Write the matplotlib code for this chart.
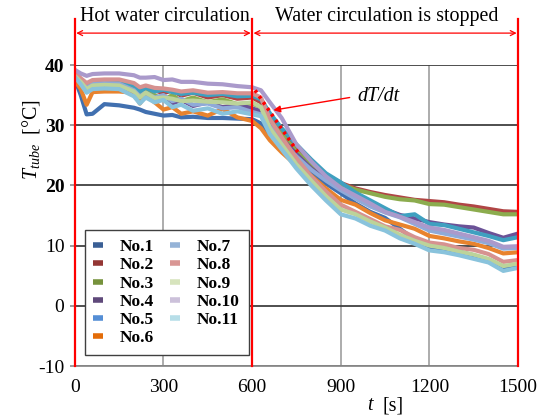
import matplotlib
matplotlib.use("Agg")
import matplotlib.pyplot as plt
from matplotlib.lines import Line2D

plt.rcParams["font.family"] = ["Liberation Serif", "DejaVu Serif"]
plt.rcParams["mathtext.fontset"] = "custom"
plt.rcParams["mathtext.rm"] = "Liberation Serif"
plt.rcParams["mathtext.it"] = "Liberation Serif:italic"
plt.rcParams["axes.unicode_minus"] = False

# time axis [s]
t = [0, 20, 40, 60, 100, 150, 200, 220, 240, 270, 300, 330, 360, 400, 450, 500, 550, 600,
     630, 660, 700, 750, 800, 850, 900, 950, 1000, 1050, 1100, 1150, 1200, 1250, 1300,
     1350, 1400, 1450, 1500]

# tube temperatures [degC]
no1 = [37.7, 35.0, 31.8, 31.9, 33.5, 33.3, 32.9, 32.6, 32.2, 31.9, 31.6, 31.7, 31.3, 31.4, 31.2, 31.2, 31.1, 31.0,
       30.3, 28.5, 26.5, 24.0, 22.0, 20.3, 18.7, 17.0, 15.6, 14.6, 12.8, 11.0, 9.8, 9.3, 9.0, 8.4, 7.6, 6.2, 6.6]
no2 = [38.6, 37.6, 36.8, 37.3, 37.4, 37.4, 36.8, 36.0, 36.3, 35.8, 35.3, 35.8, 34.9, 35.4, 34.6, 35.0, 34.4, 34.6,
       33.8, 31.5, 29.0, 26.0, 23.8, 21.8, 20.4, 19.5, 18.9, 18.4, 18.0, 17.6, 17.4, 17.2, 16.8, 16.5, 16.1, 15.7, 15.6]
no3 = [38.4, 37.3, 36.4, 37.0, 37.1, 37.0, 36.2, 35.3, 35.8, 35.0, 34.2, 35.0, 34.0, 34.6, 33.8, 34.3, 33.5, 33.6,
       33.0, 30.8, 28.5, 25.6, 23.4, 21.5, 20.2, 19.3, 18.7, 18.1, 17.7, 17.5, 16.9, 16.8, 16.4, 16.0, 15.6, 15.2, 15.2]
no4 = [38.0, 37.0, 35.8, 36.3, 36.4, 36.3, 35.0, 33.8, 35.2, 34.0, 34.6, 33.6, 34.2, 33.2, 33.8, 33.0, 33.4, 32.8,
       32.3, 30.2, 27.8, 25.2, 22.8, 21.0, 19.5, 18.3, 17.0, 16.0, 15.1, 14.5, 13.9, 13.5, 13.2, 13.0, 12.1, 11.3, 12.0]
no5 = [38.3, 37.5, 36.6, 37.2, 37.3, 37.3, 36.6, 35.6, 36.2, 35.6, 35.9, 35.5, 35.2, 35.4, 35.0, 35.2, 34.8, 34.9,
       34.3, 32.0, 29.5, 26.8, 24.3, 22.0, 20.5, 18.8, 17.5, 16.2, 14.9, 15.2, 13.6, 13.4, 12.8, 12.2, 11.6, 10.9, 11.4]
no6 = [37.4, 36.0, 33.4, 35.5, 35.6, 35.6, 35.4, 33.6, 35.0, 33.8, 32.6, 33.0, 31.9, 32.3, 31.6, 32.7, 31.3, 30.7,
       29.5, 27.5, 25.5, 23.3, 21.6, 19.5, 17.6, 16.8, 15.4, 14.2, 13.5, 12.8, 11.6, 11.2, 10.7, 10.3, 9.6, 8.7, 8.9]
no7 = [38.5, 37.4, 36.2, 36.9, 37.0, 36.9, 35.8, 34.8, 35.4, 34.6, 35.0, 34.0, 34.4, 33.4, 33.6, 32.8, 33.0, 32.2,
       31.8, 29.8, 27.4, 24.8, 22.6, 20.8, 19.2, 17.8, 16.5, 15.5, 14.7, 13.6, 12.5, 12.0, 11.5, 11.0, 10.4, 9.5, 9.6]
no8 = [38.9, 37.8, 37.0, 37.5, 37.6, 37.6, 37.0, 36.3, 36.6, 36.2, 36.1, 35.9, 35.6, 35.8, 35.4, 35.5, 35.3, 35.3,
       34.6, 31.0, 28.0, 24.5, 21.5, 19.0, 16.8, 15.6, 14.4, 13.2, 12.6, 11.4, 10.5, 10.2, 9.6, 9.3, 8.6, 7.3, 7.6]
no9 = [38.2, 37.2, 36.0, 36.6, 36.7, 36.6, 35.6, 34.6, 35.4, 34.5, 34.6, 34.4, 34.0, 34.1, 33.9, 33.8, 33.6, 33.8,
       33.0, 29.5, 26.8, 23.5, 20.8, 18.2, 16.0, 15.2, 14.0, 13.0, 11.8, 10.8, 10.0, 9.6, 9.0, 8.5, 7.8, 6.6, 7.0]
no10 = [39.2, 38.6, 38.2, 38.5, 38.6, 38.6, 38.3, 37.9, 37.9, 38.0, 37.5, 37.6, 37.2, 37.2, 36.9, 36.8, 36.5, 36.3,
        35.8, 33.8, 31.2, 26.8, 24.0, 21.5, 19.6, 18.3, 17.0, 15.6, 14.8, 13.9, 13.0, 12.6, 12.0, 11.4, 10.8, 9.8, 9.9]
no11 = [38.0, 36.8, 35.4, 36.0, 36.1, 36.0, 34.8, 33.6, 34.6, 33.8, 34.2, 33.0, 33.4, 32.4, 32.8, 31.9, 32.3, 31.8,
        31.5, 28.5, 26.0, 22.8, 20.0, 17.5, 15.2, 14.5, 13.3, 12.5, 11.2, 10.3, 9.2, 8.9, 8.4, 7.8, 7.2, 5.8, 6.3]

series = [no1, no2, no3, no4, no5, no6, no7, no8, no9, no10, no11]
labels = ["No.1", "No.2", "No.3", "No.4", "No.5", "No.6",
          "No.7", "No.8", "No.9", "No.10", "No.11"]
line_colors = ["#4170B0", "#B04545", "#8CAC4E", "#6B5297", "#3FA0C0", "#E8832E",
               "#8FAAD8", "#D69290", "#BCD39A", "#AA9ACB", "#89C3DC"]
legend_colors = ["#3A5F95", "#943634", "#76923C", "#5F497A", "#558ED5", "#E36C09",
                 "#95B3D7", "#D99694", "#D7E4BD", "#CCC1DA", "#B7DEE8"]

phase_edges = [0, 600, 1500]
phase_names = ["Hot water circulation", "Water circulation is stopped"]
slope_t = [610, 762]
slope_T = [35.8, 25.0]

fig = plt.figure(figsize=(5.43, 4.17), dpi=100)
ax = fig.add_axes([0.1378, 0.1223, 0.8163, 0.7218])

for y, c in zip(series, line_colors):
    ax.plot(t, y, color=c, lw=3.0, solid_joinstyle="round", zorder=3)

ax.set_xlim(0, 1500)
ax.set_ylim(-10, 40)
ax.set_xticks([0, 300, 600, 900, 1200, 1500])
ax.set_yticks([-10, 0, 10, 20, 30, 40])
ax.set_axisbelow(True)
ax.yaxis.grid(True, color="#404040", lw=1.3)
ax.xaxis.grid(True, color="#a6a6a6", lw=1.3)
for s in ["top", "right", "left"]:
    ax.spines[s].set_visible(False)
ax.spines["bottom"].set_color("#8c8c8c")
ax.spines["bottom"].set_linewidth(1.3)
ax.tick_params(axis="x", length=0, pad=9, labelsize=14)
ax.tick_params(axis="y", length=3.5, width=1.2, color="#8c8c8c", pad=4, labelsize=14)
for lab in ax.get_yticklabels():
    if lab.get_text() in ("20", "30", "40"):
        lab.set_fontweight("bold")

# phase boundaries, arrows and captions
for xe in phase_edges:
    ax.plot([xe, xe], [-10, 47.6], color="red", lw=1.6, clip_on=False, zorder=5)
for (a, b), name in zip(zip(phase_edges[:-1], phase_edges[1:]), phase_names):
    ax.annotate("", xy=(b, 45.3), xytext=(a, 45.3), annotation_clip=False,
                arrowprops=dict(arrowstyle="<->", color="red", lw=0.9,
                                mutation_scale=9, shrinkA=1, shrinkB=1))
    ax.text((a + b) / 2 + 5, 48.0, name, ha="center", va="center", fontsize=14.4,
            clip_on=False)

# cooling slope
ax.plot(slope_t, slope_T, color="red", lw=2.6, ls=(0, (0.8, 1.2)), zorder=6)
ax.annotate("", xy=(672, 32.5), xytext=(930, 34.6),
            arrowprops=dict(arrowstyle="-|>", color="red", lw=1.0,
                            mutation_scale=10, shrinkA=0, shrinkB=0))
ax.text(955, 34.8, "dT/dt", fontsize=14.4, style="italic", ha="left", va="center")

handles = [Line2D([], [], color=c, lw=4, solid_capstyle="butt") for c in legend_colors]
leg = ax.legend(handles, labels, ncol=2, loc="lower left",
                bbox_to_anchor=(0.022, 0.0365), fancybox=False, framealpha=1,
                edgecolor="#404040", prop={"size": 12.5, "weight": "bold"},
                handlelength=0.55, handletextpad=1.0, columnspacing=0.9,
                labelspacing=0.12, borderpad=0.5, borderaxespad=0)
leg.get_frame().set_linewidth(1.0)
leg.set_zorder(7)

fig.text(31 / 543, 1 - 140 / 417, r"$T_{tube}$  [°C]", rotation=90,
         ha="center", va="center", fontsize=14.4)
fig.text(367 / 543, 1 - 406 / 417, "t", style="italic", fontsize=14.4,
         ha="left", va="center")
fig.text(383 / 543, 1 - 406 / 417, "[s]", fontsize=14.4, ha="left", va="center")

fig.savefig("out.png", dpi=100)
